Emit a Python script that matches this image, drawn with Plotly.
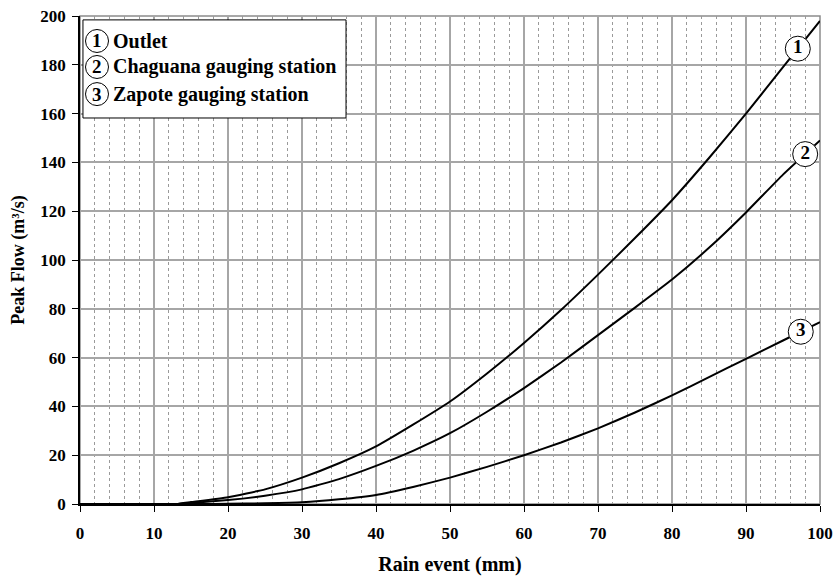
import numpy as np
import plotly.graph_objects as go

rain = [0, 5, 10, 13, 15, 20, 25, 30, 35, 40, 45, 50, 55, 60, 65, 70, 75, 80, 85, 90, 95, 100]
outlet = [0, 0, 0, 0, 0.8, 2.8, 6, 10.8, 16.7, 23.6, 32.5, 42, 53.5, 66, 79.5, 94, 109, 124.5, 141.8, 160, 179, 198]
chaguana = [0, 0, 0, 0, 0.4, 1.6, 3.4, 6, 10.2, 15.6, 21.8, 29, 37.8, 47.5, 58, 69.2, 80.5, 92, 105, 119.5, 135, 149]
zapote = [0, 0, 0, 0, 0, 0.1, 0.3, 0.7, 1.9, 3.7, 7, 10.8, 15.2, 20, 25.2, 31, 37.5, 44.5, 52, 59.5, 67, 74.5]

series = [("1", "Outlet", outlet), ("2", "Chaguana gauging station", chaguana), ("3", "Zapote gauging station", zapote)]
label_x = [97.0, 98.0, 97.4]

FONT = "Liberation Serif"
fig = go.Figure()

for num, name, vals in series:
    fig.add_trace(go.Scatter(x=rain, y=vals, mode="lines", name=name,
                             line=dict(color="black", width=2, shape="spline", smoothing=0.4),
                             showlegend=False, hoverinfo="skip"))

for (num, name, vals), lx in zip(series, label_x):
    yv = float(np.interp(lx, rain, vals))
    fig.add_trace(go.Scatter(x=[lx], y=[yv], mode="markers+text", text=[f"<b>{num}</b>"],
                             textposition="middle center",
                             textfont=dict(family=FONT, size=19, color="black"),
                             marker=dict(symbol="circle", size=25, color="white",
                                         line=dict(color="black", width=1)),
                             showlegend=False, cliponaxis=False, hoverinfo="skip"))

# gray plot border
fig.add_shape(type="rect", xref="paper", yref="paper", x0=0, x1=1, y0=0, y1=1,
              line=dict(color="#8c8c8c", width=1.5), layer="below")

# legend box
fig.add_shape(type="rect", xref="paper", yref="paper", x0=0.004, x1=0.3595, y0=0.791, y1=0.992,
              line=dict(color="black", width=1), fillcolor="white", layer="above")
leg_y = [0.9488, 0.8955, 0.840]
for (num, name, vals), yy in zip(series, leg_y):
    rx, ry = 11.5 / 740, 11.5 / 488
    cx = 17 / 740
    fig.add_shape(type="circle", xref="paper", yref="paper", x0=cx - rx, x1=cx + rx,
                  y0=yy - ry, y1=yy + ry, line=dict(color="black", width=1), fillcolor="white",
                  layer="above")
    fig.add_annotation(xref="paper", yref="paper", x=cx, y=yy, text=f"<b>{num}</b>",
                       showarrow=False, font=dict(family=FONT, size=19, color="black"),
                       xanchor="center", yanchor="middle")
    fig.add_annotation(xref="paper", yref="paper", x=31 / 740, y=yy, text=f"<b>{name}</b>",
                       showarrow=False, font=dict(family=FONT, size=20, color="black"),
                       xanchor="left", yanchor="middle")

fig.update_layout(
    width=836, height=577,
    margin=dict(l=80, r=16, t=16, b=73, autoexpand=False),
    paper_bgcolor="white", plot_bgcolor="white",
    font=dict(family=FONT, size=16, color="black"),
    showlegend=False,
)
fig.update_xaxes(
    range=[0, 100], tickmode="linear", tick0=0, dtick=10,
    showgrid=True, gridcolor="#a6a6a6", gridwidth=1.5,
    minor=dict(dtick=2, showgrid=True, gridcolor="#9a9a9a", griddash="3px,3px", gridwidth=1,
               ticks=""),
    showline=True, linecolor="black", linewidth=1.5,
    ticks="outside", ticklen=6, tickcolor="black", ticklabelstandoff=7,
    tickfont=dict(family=FONT, size=17, color="black", weight="bold"),
    title=dict(text="<b>Rain event (mm)</b>", font=dict(family=FONT, size=20), standoff=15),
    zeroline=False, automargin=False,
)
fig.update_yaxes(
    range=[0, 200], tickmode="linear", tick0=0, dtick=20,
    showgrid=True, gridcolor="#a6a6a6", gridwidth=1.5,
    showline=True, linecolor="black", linewidth=1.5,
    ticks="outside", ticklen=6, tickcolor="black", ticklabelstandoff=3,
    tickfont=dict(family=FONT, size=17, color="black", weight="bold"),
    title=dict(text="<b>Peak Flow (m³/s)</b>", font=dict(family=FONT, size=18), standoff=11),
    zeroline=False, automargin=False,
)

fig.write_html("out.html", config={"displayModeBar": False},
               post_script="document.body.style.margin='0';document.body.style.overflow='hidden';")
